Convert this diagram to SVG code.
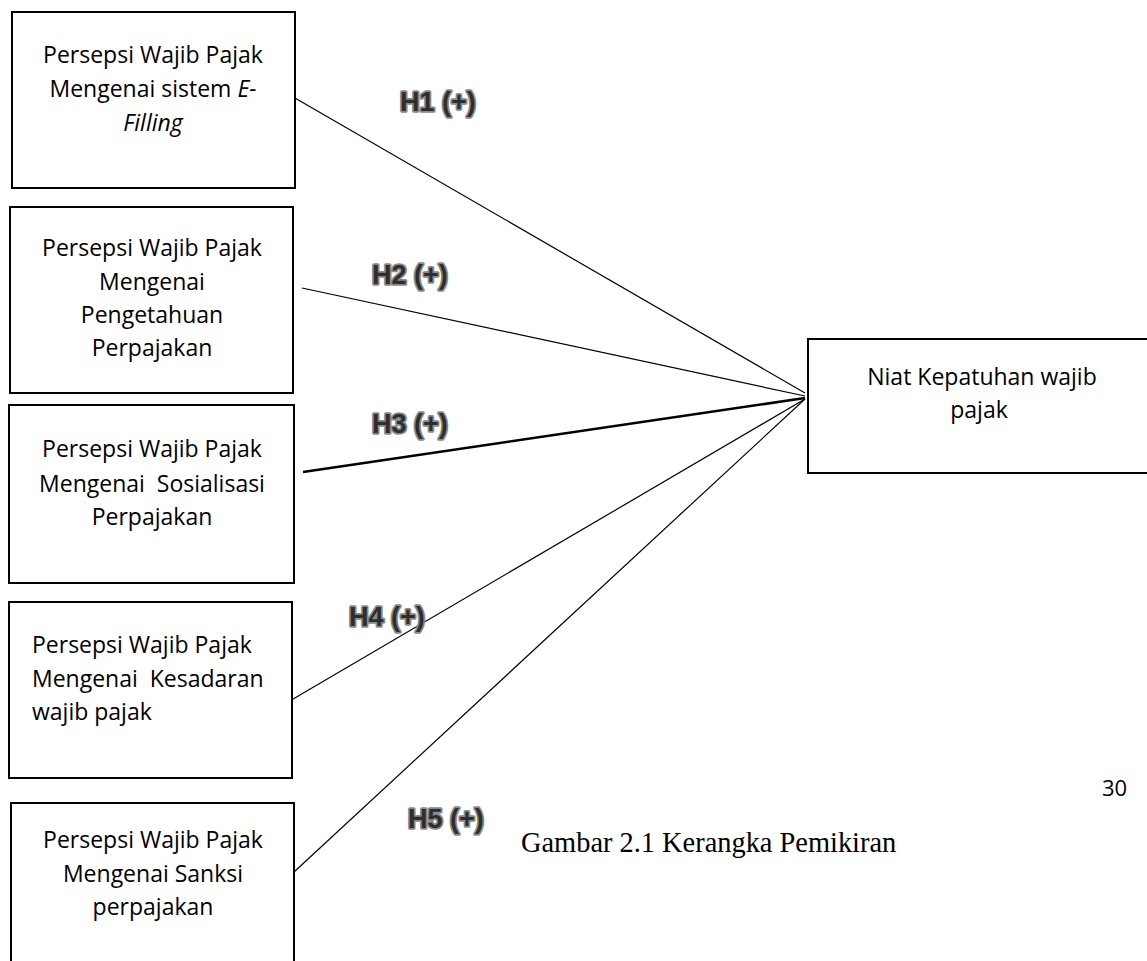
<svg xmlns="http://www.w3.org/2000/svg" width="1147" height="961" viewBox="0 0 1147 961">
<style>
.box{fill:#fff;stroke:#000;stroke-width:2}
.t{font-family:"Open Sans","Noto Sans",sans-serif;font-size:23px;fill:#000}
.c{text-anchor:middle}
.h{font-family:"Liberation Sans",Arial,sans-serif;font-weight:bold;font-size:27px;fill:#2e2e2e;stroke:#8a8a8a;stroke-width:3.5;paint-order:stroke;stroke-linejoin:round}
.ln{stroke:#000;stroke-width:1.2;fill:none}
</style>
<rect width="1147" height="961" fill="#fff"/>
<g id="connectors">
<line class="ln" x1="288" y1="94" x2="805" y2="393"/>
<line class="ln" x1="302" y1="288" x2="805" y2="396"/>
<line class="ln" x1="303" y1="472" x2="805" y2="398" style="stroke-width:2.6"/>
<line class="ln" x1="288" y1="702" x2="805" y2="399"/>
<line class="ln" x1="294" y1="872" x2="805" y2="399"/>
</g>
<g id="n1">
<rect class="box" x="12" y="12" width="283" height="176"/>
<text class="t c" x="153" y="63">Persepsi Wajib Pajak</text>
<text class="t c" x="153" y="97">Mengenai sistem <tspan font-style="italic">E-</tspan></text>
<text class="t c" x="153" y="131" font-style="italic">Filling</text>
</g>
<g id="n2">
<rect class="box" x="10" y="207" width="283" height="186"/>
<text class="t c" x="152" y="256">Persepsi Wajib Pajak</text>
<text class="t c" x="152" y="290">Mengenai</text>
<text class="t c" x="152" y="323">Pengetahuan</text>
<text class="t c" x="152" y="356">Perpajakan</text>
</g>
<g id="n3">
<rect class="box" x="9" y="405" width="285" height="178"/>
<text class="t c" x="152" y="457">Persepsi Wajib Pajak</text>
<text class="t c" x="152" y="492" xml:space="preserve">Mengenai  Sosialisasi</text>
<text class="t c" x="152" y="525">Perpajakan</text>
</g>
<g id="n4">
<rect class="box" x="9" y="602" width="283" height="176"/>
<text class="t" x="32" y="653">Persepsi Wajib Pajak</text>
<text class="t" x="32" y="687" xml:space="preserve">Mengenai  Kesadaran</text>
<text class="t" x="32" y="720">wajib pajak</text>
</g>
<g id="n5">
<rect class="box" x="11" y="803" width="283" height="170"/>
<text class="t c" x="153" y="848">Persepsi Wajib Pajak</text>
<text class="t c" x="153" y="882">Mengenai Sanksi</text>
<text class="t c" x="153" y="915">perpajakan</text>
</g>
<g id="target">
<rect class="box" x="808" y="339" width="345" height="134"/>
<text class="t c" x="982" y="385">Niat Kepatuhan wajib</text>
<text class="t c" x="979" y="418">pajak</text>
</g>
<g id="labels">
<text class="h" x="400" y="111">H1 (+)</text>
<text class="h" x="372" y="284">H2 (+)</text>
<text class="h" x="372" y="433">H3 (+)</text>
<text class="h" x="349" y="626">H4 (+)</text>
<text class="h" x="408" y="828">H5 (+)</text>
</g>
<text class="t" x="1102" y="796" style="font-size:22px">30</text>
<text x="521" y="852" style="font-family:'Liberation Serif','Times New Roman',serif;font-size:28.4px;fill:#000">Gambar 2.1 Kerangka Pemikiran</text>
</svg>
